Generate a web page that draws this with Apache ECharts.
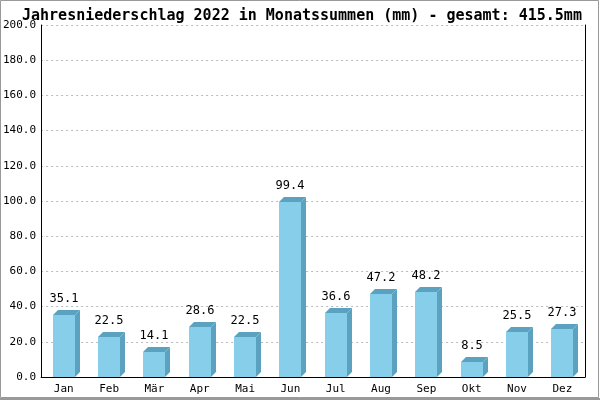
<!DOCTYPE html>
<html><head><meta charset="utf-8">
<script src="https://cdn.jsdelivr.net/npm/echarts@6/dist/echarts.min.js"></script>
<style>html,body{margin:0;padding:0;background:#fff}#c{width:600px;height:400px}</style>
</head><body><div id="c"></div>
<script>
var titleText = 'Jahresniederschlag 2022 in Monatssummen (mm) - gesamt: 415.5mm';
var months = ['Jan','Feb','Mär','Apr','Mai','Jun','Jul','Aug','Sep','Okt','Nov','Dez'];
var rain = [35.1, 22.5, 14.1, 28.6, 22.5, 99.4, 36.6, 47.2, 48.2, 8.5, 25.5, 27.3];
var yTicksMax = 200, yTickStep = 20;

var chart = echarts.init(document.getElementById('c'), null, {renderer:'canvas'});
var font = '"DejaVu Sans Mono", "Liberation Mono", monospace';
var D = 5, W = 22;
chart.setOption({
  animation:false,
  backgroundColor:'#fff',
  title:{text:titleText,left:17,top:4,textStyle:{fontFamily:font,fontSize:15,fontWeight:'bold',color:'#000'}},
  grid:{left:40,right:15,top:25,bottom:23,containLabel:false},
  xAxis:{type:'category',data:months,axisTick:{show:false},
    axisLine:{lineStyle:{color:'#000',width:1}},
    axisLabel:{fontFamily:font,fontSize:11,color:'#000',margin:7}},
  yAxis:[{type:'value',min:0,max:yTicksMax,interval:yTickStep,
    axisLine:{show:true,lineStyle:{color:'#000'}},axisTick:{show:false},
    axisLabel:{fontFamily:font,fontSize:11,color:'#000',margin:5,formatter:function(v){return v.toFixed(1);}},
    splitLine:{lineStyle:{color:'#bbb',type:[2,3]}}},
    {type:'value',min:0,max:yTicksMax,interval:yTickStep,position:'right',
    axisLine:{show:true,lineStyle:{color:'#000'}},axisTick:{show:false},axisLabel:{show:false},splitLine:{show:false}}],
  graphic:[{type:'rect',shape:{x:0.5,y:0.5,width:598,height:397},style:{fill:'none',stroke:'#999',lineWidth:1},z:100},
           {type:'rect',shape:{x:0,y:398,width:600,height:2},style:{fill:'#999'},z:100}],
  series:[{type:'custom',data:rain,
    renderItem:function(params,api){
      var i=api.value(0), v=api.value(1);
      var top=api.coord([i,v]), base=api.coord([i,0]);
      var x0=Math.round(top[0]-W/2), x1=x0+W, yt=Math.round(top[1]), yb=Math.round(base[1]);
      return {type:'group',children:[
        {type:'polygon',shape:{points:[[x1,yt],[x1+D,yt-D],[x1+D,yb-D],[x1,yb]]},style:{fill:'#5aa2c0'}},
        {type:'polygon',shape:{points:[[x0,yt],[x0+D,yt-D],[x1+D,yt-D],[x1,yt]]},style:{fill:'#5aa2c0'}},
        {type:'rect',shape:{x:x0,y:yt,width:W,height:yb-yt},style:{fill:'#87ceeb'}},
        {type:'text',style:{text:v.toFixed(1),x:(x0+x1)/2,y:yt-D-5,align:'center',verticalAlign:'bottom',font:'12px '+font,fill:'#000'}}
      ]};
    }}]
});
</script></body></html>
